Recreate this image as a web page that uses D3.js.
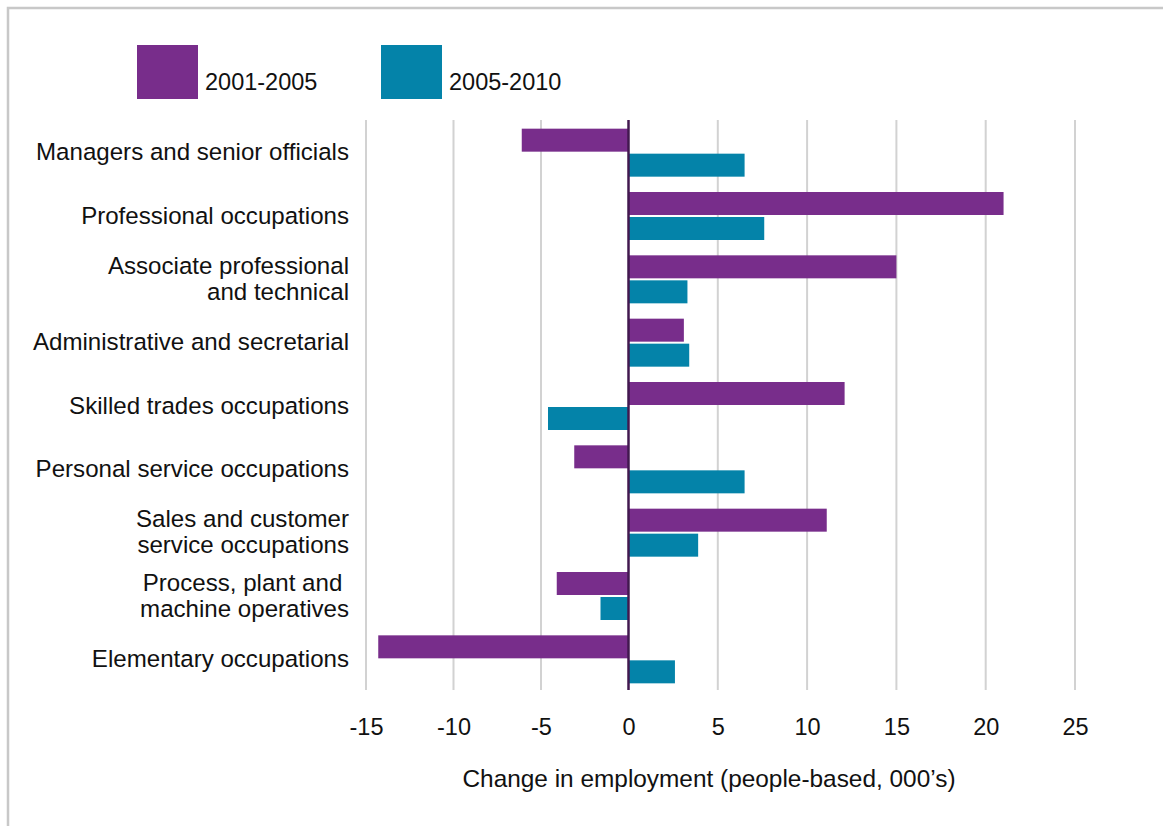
<!DOCTYPE html>
<html>
<head>
<meta charset="utf-8">
<script src="https://cdn.jsdelivr.net/npm/d3@7"></script>
<style>
  html, body { margin: 0; padding: 0; background: #fff; }
  svg { display: block; }
  text { font-family: "Liberation Sans", Arial, Helvetica, sans-serif; fill: #111; }
</style>
</head>
<body>
<svg id="chart" width="1163" height="826"></svg>
<script>
// Occupation groups (multi-line labels split on "|")
const categories = [
  "Managers and senior officials",
  "Professional occupations",
  "Associate professional|and technical",
  "Administrative and secretarial",
  "Skilled trades occupations",
  "Personal service occupations",
  "Sales and customer|service occupations",
  "Process, plant and |machine operatives",
  "Elementary occupations"
];
const seriesNames = ["2001-2005", "2005-2010"];
// Change in employment, thousands of people
const change2001_2005 = [-6.1, 21.0, 15.0, 3.1, 12.1, -3.1, 11.1, -4.1, -14.3];
const change2005_2010 = [6.5, 7.6, 3.3, 3.4, -4.6, 6.5, 3.9, -1.6, 2.6];
const xTicks = [-15, -10, -5, 0, 5, 10, 15, 20, 25];
const colors = ["#782d8b", "#0483a9"];
const axisTitle = "Change in employment (people-based, 000\u2019s)";

const svg = d3.select("#chart");
const FONT = 23.5;

// Outer frame
svg.append("rect")
  .attr("x", 8).attr("y", 8)
  .attr("width", 1200).attr("height", 900)
  .attr("fill", "none")
  .attr("stroke", "#c8c8c8")
  .attr("stroke-width", 2.5);

// Value axis (negative and positive sides laid out separately)
const x = d3.scaleLinear().domain([-15, 0, 25]).range([366, 628.5, 1075]);
const y0 = d3.scaleBand().domain(categories).range([121, 691]);
const y1 = d3.scaleBand().domain(seriesNames)
  .range([0, y0.bandwidth()])
  .paddingInner(0.08)
  .paddingOuter(0.3067);
const color = d3.scaleOrdinal().domain(seriesNames).range(colors);

// Vertical gridlines
svg.append("g")
  .selectAll("line")
  .data(xTicks.filter(t => t !== 0))
  .join("line")
  .attr("x1", d => x(d)).attr("x2", d => x(d))
  .attr("y1", 120).attr("y2", 690)
  .attr("stroke", "#d2d2d2")
  .attr("stroke-width", 2);

// Bars
const rows = categories.map((c, i) => ({
  cat: c,
  values: [
    { s: seriesNames[0], v: change2001_2005[i] },
    { s: seriesNames[1], v: change2005_2010[i] }
  ]
}));

const groups = svg.append("g")
  .selectAll("g")
  .data(rows)
  .join("g")
  .attr("transform", d => `translate(0,${y0(d.cat)})`);

groups.selectAll("rect")
  .data(d => d.values)
  .join("rect")
  .attr("x", d => x(Math.min(0, d.v)))
  .attr("width", d => Math.abs(x(d.v) - x(0)))
  .attr("y", d => y1(d.s))
  .attr("height", y1.bandwidth())
  .attr("fill", d => color(d.s));

// Zero line
svg.append("line")
  .attr("x1", x(0)).attr("x2", x(0))
  .attr("y1", 120).attr("y2", 690)
  .attr("stroke", "#42184f")
  .attr("stroke-width", 2.5);

// Category labels
const lineH = 26;
svg.append("g")
  .selectAll("text")
  .data(categories)
  .join("text")
  .attr("text-anchor", "end")
  .attr("font-size", 24.1)
  .style("white-space", "pre")
  .each(function (d) {
    const lines = d.split("|");
    const cy = y0(d) + y0.bandwidth() / 2;
    const first = cy - (lines.length - 1) * lineH / 2 + 7.5;
    d3.select(this).selectAll("tspan")
      .data(lines)
      .join("tspan")
      .attr("x", 349)
      .attr("y", (l, i) => first + i * lineH)
      .text(l => l);
  });

// Bottom tick labels
const xAxis = d3.axisBottom(x).tickValues(xTicks).tickSize(0).tickPadding(0)
  .tickFormat(d => String(d));
const gx = svg.append("g")
  .attr("transform", "translate(0,718)")
  .call(xAxis);
gx.select(".domain").remove();
gx.selectAll("text")
  .attr("font-size", FONT)
  .attr("font-family", "Liberation Sans, Arial, Helvetica, sans-serif")
  .attr("fill", "#111")
  .attr("dy", "0.71em");

// Axis title
svg.append("text")
  .attr("x", 709).attr("y", 787)
  .attr("text-anchor", "middle")
  .attr("font-size", 24.4)
  .text(axisTitle);

// Legend
const legendX = [137, 381];
const lg = svg.append("g")
  .selectAll("g")
  .data(seriesNames)
  .join("g")
  .attr("transform", (d, i) => `translate(${legendX[i]},45)`);
lg.append("rect")
  .attr("width", 61).attr("height", 54)
  .attr("fill", d => color(d));
lg.append("text")
  .attr("x", 68).attr("y", 45)
  .attr("font-size", FONT)
  .text(d => d);
</script>
</body>
</html>
